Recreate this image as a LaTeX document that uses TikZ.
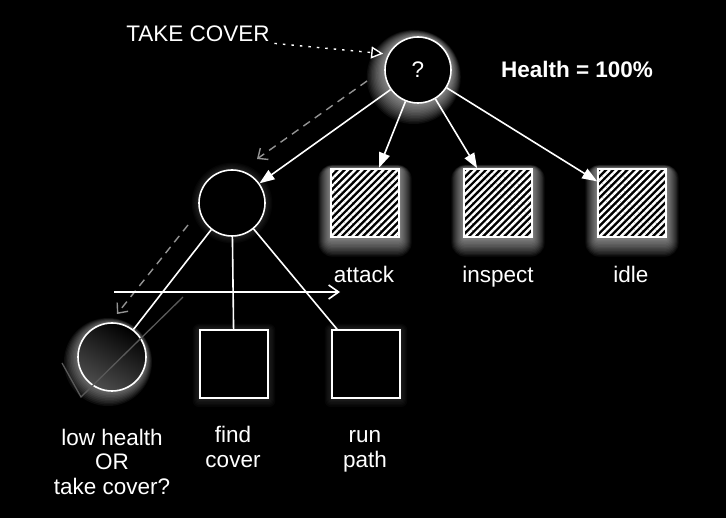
\documentclass[tikz,border=0pt]{standalone}
\usepackage{fontspec}
\setmainfont{Liberation Sans}
\usetikzlibrary{arrows.meta, patterns.meta}

\begin{document}
\begin{tikzpicture}[
  x = 1pt, y = -1pt,
  > = {Triangle[length=15pt, width=11pt]},
  line width = 1.6pt
  ]

  \tikzstyle{every node}=[
  text = white,
  font = \fontsize{22.5}{25}\selectfont
  ]
  \tikzstyle{sel}=[circle, draw = white, fill = black, minimum size = 66pt, inner sep = 0pt]
  \tikzstyle{act}=[
  rectangle, draw = white, minimum size = 68pt, inner sep = 0pt,
  preaction = {fill = black},
  pattern = {Lines[angle=45, distance=5pt, line width=2.4pt]},
  pattern color = white
  ]
  \tikzstyle{task}=[rectangle, draw = white, fill = black, minimum size = 68pt, inner sep = 0pt]
  \tikzstyle{caption}=[anchor = base, align = center, inner sep = 0pt]
  \tikzstyle{hint}=[draw = gray!85, dash pattern = on 8pt off 6pt, line width = 1.4pt,
  -{Straight Barb[length=8pt, width=14pt]}]

  % background
  \fill[black] (0,0) rectangle (726,518);
  \useasboundingbox (0,0) rectangle (726,518);

  \coordinate (pq) at (418,70);
  \coordinate (ps) at (232,203);
  \coordinate (pa) at (365,203);
  \coordinate (pi) at (498,203);
  \coordinate (pd) at (632,203);
  \coordinate (pc) at (112,357);
  \coordinate (pf) at (234,364);
  \coordinate (pr) at (366,364);

  % glow
  \foreach \k in {1,...,14}
  \fill[white, opacity = 0.05] ([shift={(-0.3*\k,0.5*\k)}]pq) circle (33+\k);
  \foreach \c in {pa,pi,pd}
  \foreach \k in {1,...,14}
  \fill[white, opacity = 0.05, rounded corners = \k pt]
  ([shift={(-34-0.9*\k,-34-0.3*\k)}]\c) rectangle ([shift={(34+0.9*\k,34+1.4*\k)}]\c);
  \foreach \k in {1,...,10}
  \fill[white, opacity = 0.05] ([shift={(-0.4*\k,0.5*\k)}]pc) circle (34+\k);
  \foreach \k in {1,...,6}
  \fill[white, opacity = 0.025] (ps) circle (33+1.2*\k);
  \foreach \c in {pf,pr}
  \foreach \k in {1,...,6}
  \fill[white, opacity = 0.025, rounded corners = \k pt]
  ([shift={(-34-1.2*\k,-34-\k)}]\c) rectangle ([shift={(34+1.2*\k,34+1.5*\k)}]\c);

  \node[sel] (q) at (pq) {?};
  \node[sel] (s) at (ps) {};
  \node[act] (a) at (pa) {};
  \node[act] (i) at (pi) {};
  \node[act] (d) at (pd) {};
  \node[sel, top color = black, bottom color = black!70!white, shading angle = -30,
  minimum size = 68pt] (c) at (pc) {};
  \node[task] (f) at (pf) {};
  \node[task] (r) at (pr) {};

  \node[caption] (tc) at (198,42) {TAKE COVER};
  \node[caption, font = \fontsize{22.5}{25}\selectfont\bfseries] (hp) at (577,78) {Health = 100\%};
  \node[caption] (la) at (364,283) {attack};
  \node[caption] (li) at (498,283) {inspect};
  \node[caption] (ld) at (631,283) {idle};
  \node[caption] (lc) at (112,495) {low health\\OR\\take cover?};
  \node[caption] (lf) at (233,468) {find\\cover};
  \node[caption] (lr) at (365,468) {run\\path};

  \draw[white, line width = 1.4pt, dash pattern = on 2.5pt off 6pt, shorten < = 4pt,
  shorten > = 5pt, -{Triangle[open, length=12pt, width=12pt, fill=black]}]
  (tc.south east) -- (q.152);

  \draw[->, white] (q) -- (s);
  \draw[->, white] (q) -- (a);
  \draw[->, white] (q) -- (i);
  \draw[->, white] (q) -- (d);

  \draw[white] (s) -- (c);
  \draw[white] (s) -- (f);
  \draw[white] (s) -- (r);

  \coordinate (h1) at (367,81);
  \coordinate (h2) at (257,159);
  \coordinate (h3) at (188,225);
  \coordinate (h4) at (117,314);
  \draw[hint] (h1) -- (h2);
  \draw[hint] (h3) -- (h4);

  \coordinate (t1) at (114,292);
  \coordinate (t2) at (340,292);
  \draw[white, -{Straight Barb[length=10pt, width=14pt]}] (t1) -- (t2);

  \coordinate (v1) at (183,297);
  \coordinate (v2) at (81,397);
  \coordinate (v3) at (62,363);
  \draw[gray!70!black, line width = 1.3pt] (v1) -- (v2) -- (v3);

\end{tikzpicture}
\end{document}
